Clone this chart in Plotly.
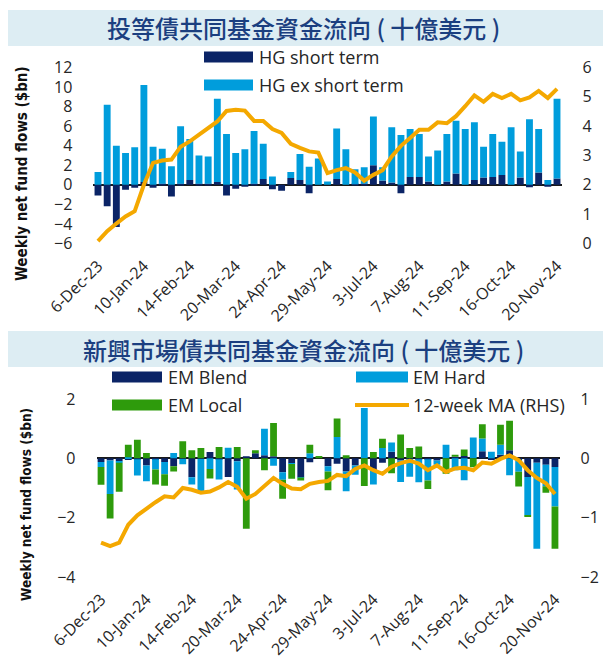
import pandas as pd
import plotly.graph_objects as go

# ---------------- data ----------------
WEEKS = pd.date_range("2023-12-06", periods=51, freq="7D")
WEEK_LABELS = [f"{d.day}-{d.strftime('%b-%y')}" for d in WEEKS]
TICK_LABELS = ["6-Dec-23", "10-Jan-24", "14-Feb-24", "20-Mar-24", "24-Apr-24", "29-May-24",
               "3-Jul-24", "7-Aug-24", "11-Sep-24", "16-Oct-24", "20-Nov-24"]

HG_SHORT = [-1.1, -2.2, -4.3, -0.5, -0.3, 0.3, -0.3, 0.1, -1.2, 0.1,
            0.5, 0.1, 0.1, 0.3, -1.1, -0.4, -0.2, 0.1, 0.6, -0.45,
            -0.6, 0.7, 0.5, -0.85, 0.0, 0.0, 0.6, 0.0, 0.05, 0.1,
            2.0, 0.45, 0.25, -0.85, 0.8, 0.8, 0.35, 0.0, 0.35, 1.15,
            0.0, 0.5, 0.75, 0.8, 1.0, 0.0, 0.75, -0.25, 1.25, -0.2, 0.65]
HG_EX_SHORT = [1.3, 8.2, 4.0, 3.25, 3.85, 9.9, 3.9, 3.6, 1.9, 5.9,
               4.2, 2.9, 2.8, 8.5, 5.2, 3.25, 3.65, 5.4, 3.6, 0.85,
               0.0, 0.6, 2.65, 1.85, 2.7, 0.35, 5.15, 3.65, 1.55, 1.7,
               5.0, 1.35, 5.65, 5.1, 4.9, 4.4, 2.55, 3.5, 4.85, 5.4,
               5.7, 5.9, 3.15, 4.4, 3.4, 5.9, 2.65, 6.7, 4.45, 0.5, 8.15]
HG_MA = [0.08, 0.42, 0.68, 0.92, 1.1, 2.0, 2.75, 2.83, 2.86, 3.3,
         3.48, 3.7, 3.93, 4.16, 4.52, 4.56, 4.53, 4.18, 4.18, 3.9,
         3.77, 3.4, 3.26, 3.14, 3.1, 2.4, 2.5, 2.57, 2.42, 2.14,
         2.34, 2.5, 2.97, 3.33, 3.6, 3.88, 3.88, 4.13, 4.1, 4.34,
         4.68, 5.05, 4.83, 5.1, 4.96, 5.1, 4.88, 4.98, 5.2, 4.96, 5.27]

EM_BLEND = [-0.12, -0.07, -0.1, -0.06, -0.03, -0.24, -0.03, -0.12, -0.27, -0.02,
            -0.64, -0.02, 0.21, -0.03, -0.63, -0.1, 0.07, 0.17, 0.1, 0.07,
            -0.47, -0.17, -0.63, -0.13, 0.0, -0.27, -0.18, -0.44, -0.24, 0.0,
            -0.4, -0.15, 0.22, -0.07, -0.02, -0.03, -0.03, -0.07, 0.0, 0.05,
            0.08, 0.0, 0.24, -0.05, 0.12, 0.27, -0.05, -0.63, -0.15, -0.22, -0.29]
EM_HARD = [-0.17, -1.13, -0.05, 0.04, -0.55, -0.53, -0.35, -0.42, 0.18, -0.18,
           -0.24, -1.08, -0.36, -0.68, 0.36, -0.95, 0.0, 0.0, 0.9, -0.25,
           -0.25, -0.02, -0.02, 0.17, 0.0, -0.17, 0.72, -0.67, -0.31, 1.7,
           -0.48, 0.35, 0.31, -0.73, -0.6, -0.78, -0.72, -0.15, 0.46, -0.4,
           -0.74, 0.7, 0.43, 0.22, 0.34, -0.57, -0.4, -1.29, -2.9, -0.72, -1.33]
EM_LOCAL = [-0.6, -0.83, -0.98, 0.42, 0.63, 0.18, -0.5, -0.38, -0.17, 0.58,
            0.27, 0.35, -0.32, 0.38, 0.0, 0.38, -2.37, 0.1, -0.4, 1.12,
            -0.64, -0.5, -0.1, 0.29, 0.08, -0.64, 0.62, 0.1, 0.0, -0.93,
            0.21, 0.31, -0.5, 0.8, 0.35, 0.4, -0.28, 0.0, -0.52, 0.07,
            0.22, -0.3, 0.48, 0.0, 0.67, 1.0, -0.5, -0.06, 0.0, -0.22, -1.43]
EM_MA = [-1.42, -1.48, -1.42, -1.12, -0.96, -0.84, -0.74, -0.64, -0.66, -0.5,
         -0.53, -0.58, -0.56, -0.49, -0.4, -0.48, -0.68, -0.6, -0.46, -0.33,
         -0.43, -0.51, -0.52, -0.43, -0.4, -0.38, -0.28, -0.3, -0.18, -0.12,
         -0.2, -0.26, -0.14, -0.08, -0.04, -0.09, -0.2, -0.12, -0.23, -0.17,
         -0.16, -0.2, -0.07, -0.09, -0.01, 0.05, -0.03, -0.2, -0.33, -0.42, -0.6]

TITLE_TOP = "投等債共同基金資金流向 ( 十億美元 )"
TITLE_BOTTOM = "新興市場債共同基金資金流向 ( 十億美元 )"
Y_TITLE = "Weekly net fund flows ($bn)"

# ---------------- style ----------------
W, H = 607, 659
NAVY = "#0b2466"
LBLUE = "#009ddc"
GREEN = "#2e9b0c"
ORANGE = "#f4a800"
BAND = "#ddedf3"
TITLE_COLOR = "#1b3f80"
TICK_FONT = dict(family="Open Sans", size=16, color="#262626")
XTICK_FONT = dict(family="Open Sans", size=16, color="#262626")
LEG_FONT = dict(family="Open Sans", size=18, color="#262626")


def px(x):
    return x / W


def py(y):
    return 1 - y / H


fig = go.Figure()

# top chart
fig.add_trace(go.Bar(x=WEEK_LABELS, y=HG_SHORT, name="HG short term", marker_color=NAVY,
                     marker_line_width=0, xaxis="x", yaxis="y", showlegend=False))
fig.add_trace(go.Bar(x=WEEK_LABELS, y=HG_EX_SHORT, name="HG ex short term", marker_color=LBLUE,
                     marker_line_width=0, xaxis="x", yaxis="y", showlegend=False))
fig.add_trace(go.Scatter(x=WEEK_LABELS, y=HG_MA, mode="lines", name="HG 12-week MA",
                         line=dict(color=ORANGE, width=4), xaxis="x", yaxis="y2", showlegend=False))

# bottom chart
fig.add_trace(go.Bar(x=WEEK_LABELS, y=EM_BLEND, name="EM Blend", marker_color=NAVY,
                     marker_line_width=0, xaxis="x2", yaxis="y3", showlegend=False))
fig.add_trace(go.Bar(x=WEEK_LABELS, y=EM_HARD, name="EM Hard", marker_color=LBLUE,
                     marker_line_width=0, xaxis="x2", yaxis="y3", showlegend=False))
fig.add_trace(go.Bar(x=WEEK_LABELS, y=EM_LOCAL, name="EM Local", marker_color=GREEN,
                     marker_line_width=0, xaxis="x2", yaxis="y3", showlegend=False))
fig.add_trace(go.Scatter(x=WEEK_LABELS, y=EM_MA, mode="lines", name="12-week MA (RHS)",
                         line=dict(color=ORANGE, width=4), xaxis="x2", yaxis="y4", showlegend=False))

xcommon = dict(type="category", categoryorder="array", categoryarray=WEEK_LABELS,
               range=[-0.5, len(WEEK_LABELS) - 0.5], tickmode="array", tickvals=TICK_LABELS,
               ticktext=TICK_LABELS, tickangle=-45, tickfont=XTICK_FONT, showgrid=False,
               showline=False, zeroline=False, ticks="", ticklabelstandoff=9, automargin=False)
ycommon = dict(showgrid=False, showline=False, ticks="", tickfont=TICK_FONT, ticklabelstandoff=20,
               automargin=False)

fig.update_layout(
    width=W, height=H, margin=dict(l=0, r=0, t=0, b=0, autoexpand=False),
    paper_bgcolor="white", plot_bgcolor="white",
    barmode="relative", bargap=0.25,
    xaxis=dict(domain=[px(93.4), px(561.6)], anchor="y", **xcommon),
    xaxis2=dict(domain=[px(96.5), px(559.5)], anchor="y3", **xcommon),
    yaxis=dict(domain=[py(243.5), py(67.5)], anchor="x", range=[-6, 12], tickvals=list(range(-6, 13, 2)),
               zeroline=True, zerolinecolor="#1a1a1a", zerolinewidth=2, **ycommon),
    yaxis2=dict(overlaying="y", anchor="x", side="right", range=[0, 6], tickvals=list(range(0, 7)),
                zeroline=False, **ycommon),
    yaxis3=dict(domain=[py(577), py(399)], anchor="x2", range=[-4, 2], tickvals=[-4, -2, 0, 2],
                zeroline=True, zerolinecolor="#1a1a1a", zerolinewidth=2, **ycommon),
    yaxis4=dict(overlaying="y3", anchor="x2", side="right", range=[-2, 1], tickvals=[-2, -1, 0, 1],
                zeroline=False, **ycommon),
)

shapes = []
annotations = []

# title bands
for (y0, y1, text) in [(10, 46, TITLE_TOP), (331, 367, TITLE_BOTTOM)]:
    shapes.append(dict(type="rect", xref="paper", yref="paper", x0=px(8), x1=px(603),
                       y0=py(y1), y1=py(y0), fillcolor=BAND, line_width=0, layer="below"))
    annotations.append(dict(text=text, xref="paper", yref="paper", x=0.5, y=py((y0 + y1) / 2),
                            xanchor="center", yanchor="middle", showarrow=False,
                            font=dict(family="Noto Sans CJK TC", size=24, weight=500,
                                      color=TITLE_COLOR)))

# y-axis titles
for (xc, yc, size) in [(22, 174, 15), (26, 505, 13.5)]:
    annotations.append(dict(text="<b>" + Y_TITLE + "</b>", xref="paper", yref="paper",
                            x=px(xc), y=py(yc), xanchor="center", yanchor="middle",
                            textangle=-90, showarrow=False,
                            font=dict(family="Liberation Sans Narrow, DejaVu Sans Condensed, Roboto",
                                      size=size, color="#111111")))

# legends (manual)
def legend_rect(x0, x1, yc, color, text, tx):
    shapes.append(dict(type="rect", xref="paper", yref="paper", x0=px(x0), x1=px(x1),
                       y0=py(yc + 5.5), y1=py(yc - 5.5), fillcolor=color, line_width=0))
    annotations.append(dict(text=text, xref="paper", yref="paper", x=px(tx), y=py(yc),
                            xanchor="left", yanchor="middle", showarrow=False, font=LEG_FONT))


legend_rect(204, 253, 57, NAVY, "HG short term", 257)
legend_rect(204, 253, 85, LBLUE, "HG ex short term", 257)
legend_rect(112, 162, 377, NAVY, "EM Blend", 166)
legend_rect(356, 408, 377, LBLUE, "EM Hard", 411)
legend_rect(112, 162, 405, GREEN, "EM Local", 166)
shapes.append(dict(type="line", xref="paper", yref="paper", x0=px(355), x1=px(409),
                   y0=py(405), y1=py(405), line=dict(color=ORANGE, width=4)))
annotations.append(dict(text="12-week MA (RHS)", xref="paper", yref="paper", x=px(411), y=py(405),
                        xanchor="left", yanchor="middle", showarrow=False, font=LEG_FONT))

fig.update_layout(shapes=shapes, annotations=annotations)

fig.write_html("out.html", config={"displayModeBar": False},
               post_script="document.body.style.margin='0';document.body.style.overflow='hidden';")
